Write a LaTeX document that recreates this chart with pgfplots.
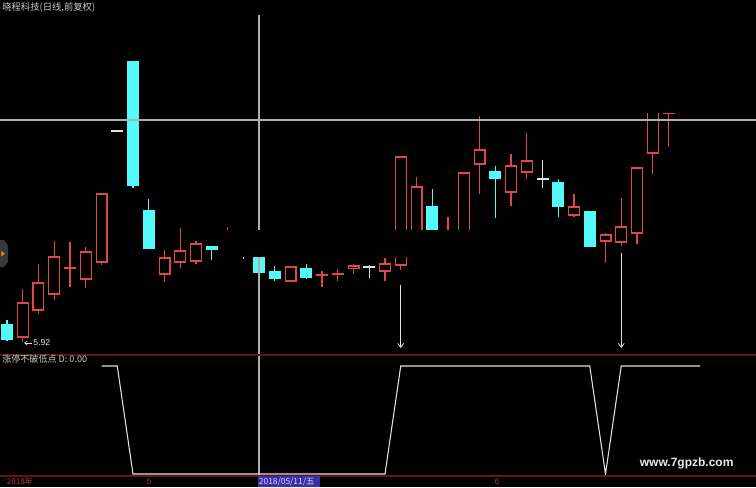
\documentclass[border=0pt]{standalone}
\usepackage{pgfplots}
\pgfplotsset{compat=1.18}
\usepackage{pgfplotstable}
\usetikzlibrary{arrows.meta}
\usepackage{fontspec}
\setmainfont{Liberation Sans}
\newfontfamily\cjk{Noto Sans CJK SC}
\definecolor{candred}{RGB}{222,72,72}
\definecolor{candcyan}{RGB}{84,250,250}
\definecolor{candwhite}{RGB}{225,225,225}
\definecolor{sepred}{RGB}{96,22,22}
\definecolor{axred}{RGB}{176,64,64}
\definecolor{hair}{RGB}{175,175,175}
\definecolor{tabblue}{RGB}{58,46,168}

% up days (red, hollow): index open high low close
\pgfplotstableread{
i o h l c
1 6.02 6.98 5.92 6.70
2 6.56 7.48 6.48 7.10
3 6.88 7.94 6.76 7.62
4 7.40 7.92 7.02 7.40
5 7.18 7.82 7.00 7.72
6 7.52 8.88 7.46 8.88
10 7.28 7.76 7.12 7.60
11 7.52 8.20 7.40 7.74
12 7.54 7.94 7.48 7.88
14 7.80 8.22 7.68 8.04
18 7.14 7.42 7.14 7.42
20 7.26 7.34 7.02 7.26
21 7.28 7.38 7.14 7.28
22 7.40 7.48 7.28 7.44
24 7.34 7.60 7.14 7.48
25 7.46 9.62 7.36 9.62
26 7.96 9.22 7.80 9.02
28 7.80 8.42 7.72 8.04
29 7.86 9.30 7.76 9.30
30 9.48 10.44 8.88 9.76
32 8.92 9.68 8.64 9.44
33 9.32 10.10 9.18 9.54
36 8.46 8.88 8.42 8.62
38 7.94 8.10 7.50 8.06
39 7.92 8.80 7.84 8.22
40 8.10 9.40 7.88 9.40
41 9.70 10.76 9.28 10.76
42 10.49 10.70 9.82 10.66
}\redtab
% down days (cyan, filled)
\pgfplotstableread{
i o h l c
0 6.26 6.36 5.94 5.98
8 11.52 11.52 9.00 9.06
9 8.54 8.78 7.80 7.80
13 7.82 7.82 7.56 7.78
16 7.76 7.84 7.24 7.32
17 7.32 7.44 7.14 7.20
19 7.38 7.48 7.18 7.22
27 8.62 8.98 7.76 7.92
31 9.32 9.44 8.40 9.20
35 9.10 9.18 8.42 8.64
37 8.52 8.52 7.82 7.84
}\cyantab
% flat days (white)
\pgfplotstableread{
i o h l c
7 10.14 10.14 10.14 10.14
15 7.80 7.96 7.58 7.80
23 7.42 7.46 7.20 7.42
34 9.18 9.56 9.00 9.18
}\whitetab

% #1 table, #2 colour
\newcommand\wicks[2]{%
  \addplot[only marks, mark size=0pt, forget plot, error bars/.cd, y dir=both, y explicit, error mark=none,
    error bar style={draw=#2, line width=0.9pt}]
    table[x=i, y expr={(\thisrow{h}+\thisrow{l})/2}, y error expr={(\thisrow{h}-\thisrow{l})/2}] {#1};}
\newcommand\bodies[2]{%
  \addplot[only marks, mark size=0pt, forget plot, error bars/.cd, y dir=both, y explicit, error mark=none,
    error bar style={draw=#2, line width=9pt, line cap=butt}]
    table[x=i, y expr={(\thisrow{o}+\thisrow{c})/2}, y error expr={abs(\thisrow{o}-\thisrow{c})/2+0.012}] {#1};}
\newcommand\hollow[1]{%
  \addplot[only marks, mark size=0pt, forget plot, error bars/.cd, y dir=both, y explicit, error mark=none,
    error bar style={draw=black, line width=7.2pt, line cap=butt}]
    table[x=i, y expr={(\thisrow{o}+\thisrow{c})/2}, y error expr={max(abs(\thisrow{o}-\thisrow{c})/2-0.012,0)}] {#1};}

\begin{document}
\begin{tikzpicture}
\useasboundingbox (0,0) rectangle (567pt,365.25pt);
\fill[black] (0,0) rectangle (567pt,365.25pt);

% ---------- price panel ----------
\begin{axis}[at={(0pt,99.75pt)}, anchor=south west, scale only axis,
  width=567pt, height=265.5pt,
  xmin=-0.4444, xmax=47.556, ymin=5.68, ymax=12.76, hide axis]
\wicks{\redtab}{candred}
\bodies{\redtab}{candred}
\hollow{\redtab}
\wicks{\cyantab}{candcyan}
\bodies{\cyantab}{candcyan}
\wicks{\whitetab}{candwhite}
\bodies{\whitetab}{candwhite}
\hollow{\whitetab}
% signal arrows
\addplot[candwhite, line width=0.6pt, -{Straight Barb[length=3pt,width=4.5pt]}] coordinates {(25,7.06) (25,5.80)};
\addplot[candwhite, line width=0.6pt, -{Straight Barb[length=3pt,width=4.5pt]}] coordinates {(39,7.70) (39,5.80)};
% crosshair
\draw[hair, line width=0.8pt] (axis cs:-1,10.36) -- (axis cs:48,10.36);
\draw[hair, line width=0.8pt] (axis cs:16,12.46) -- (axis cs:16,5.5);
% erased bands of the screenshot
\fill[black] (axis cs:13.5,7.62) rectangle (axis cs:29.55,8.16);
\fill[black] (axis cs:40.55,10.50) rectangle (axis cs:48,13);
% lowest price label
\draw[candwhite, line width=0.5pt, -{Straight Barb[length=2pt,width=3pt]}] (axis cs:1.60,5.90) -- (axis cs:1.08,5.90);
\node[anchor=west, inner sep=0.5pt, text=candwhite, font=\fontsize{6.5}{7}\selectfont] at (axis cs:1.62,5.90) {5.92};
\end{axis}

% ---------- indicator panel ----------
\begin{axis}[at={(0pt,8.25pt)}, anchor=south west, scale only axis,
  width=567pt, height=91.5pt,
  xmin=-0.4444, xmax=47.556, ymin=-0.0185, ymax=1.111, hide axis]
\draw[hair, line width=0.8pt] (axis cs:16,-0.1) -- (axis cs:16,1.2);
\addplot[candwhite, line width=0.8pt] coordinates {
(6,1) (7,1) (8,0) (9,0) (10,0) (11,0) (12,0) (13,0) (14,0) (15,0) (16,0)
(17,0) (18,0) (19,0) (20,0) (21,0) (22,0) (23,0) (24,0) (25,1) (26,1)
(27,1) (28,1) (29,1) (30,1) (31,1) (32,1) (33,1) (34,1) (35,1) (36,1)
(37,1) (38,0) (39,1) (40,1) (41,1) (42,1) (43,1) (44,1)};
\end{axis}

% separators
\draw[sepred, line width=1.5pt] (0,99pt) -- (567pt,99pt);
\draw[sepred, line width=1.5pt] (0,8.6pt) -- (567pt,8.6pt);

% left tab
\fill[gray!45!black] (0,165pt) -- (3pt,165pt) -- (6pt,169pt) -- (6pt,181pt) -- (3pt,185.25pt) -- (0,185.25pt) -- cycle;
\fill[orange!80!yellow] (1pt,173pt) -- (3.5pt,175pt) -- (1pt,177pt) -- cycle;

% texts
\node[anchor=west, inner sep=0pt, text=candwhite!90!black, font=\cjk\fontsize{7}{8}\selectfont] at (1.5pt,359.5pt) {晓程科技(日线,前复权)};
\node[anchor=west, inner sep=0pt, text=candwhite!90!black, font=\cjk\fontsize{6.8}{8}\selectfont] at (1.5pt,96pt) {涨停不破低点\ D:\ 0.00};

% bottom date axis
\node[anchor=west, inner sep=0pt, text=axred, font=\cjk\fontsize{6}{7}\selectfont] at (5pt,4pt) {2018年};
\node[inner sep=0pt, text=axred, font=\fontsize{6}{7}\selectfont] at (111.75pt,4pt) {5};
\fill[tabblue] (193.5pt,0) rectangle (240pt,8.2pt);
\node[anchor=west, inner sep=0pt, text=white!85!blue, font=\cjk\fontsize{6.3}{7}\selectfont] at (194pt,4pt) {2018/05/11/五};
\node[inner sep=0pt, text=axred, font=\fontsize{6}{7}\selectfont] at (372.75pt,4pt) {6};

% watermark
\node[inner sep=0pt, text=white!92!black, font=\bfseries\fontsize{9}{10}\selectfont] at (515pt,18pt) {www.7gpzb.com};
\end{tikzpicture}
\end{document}
